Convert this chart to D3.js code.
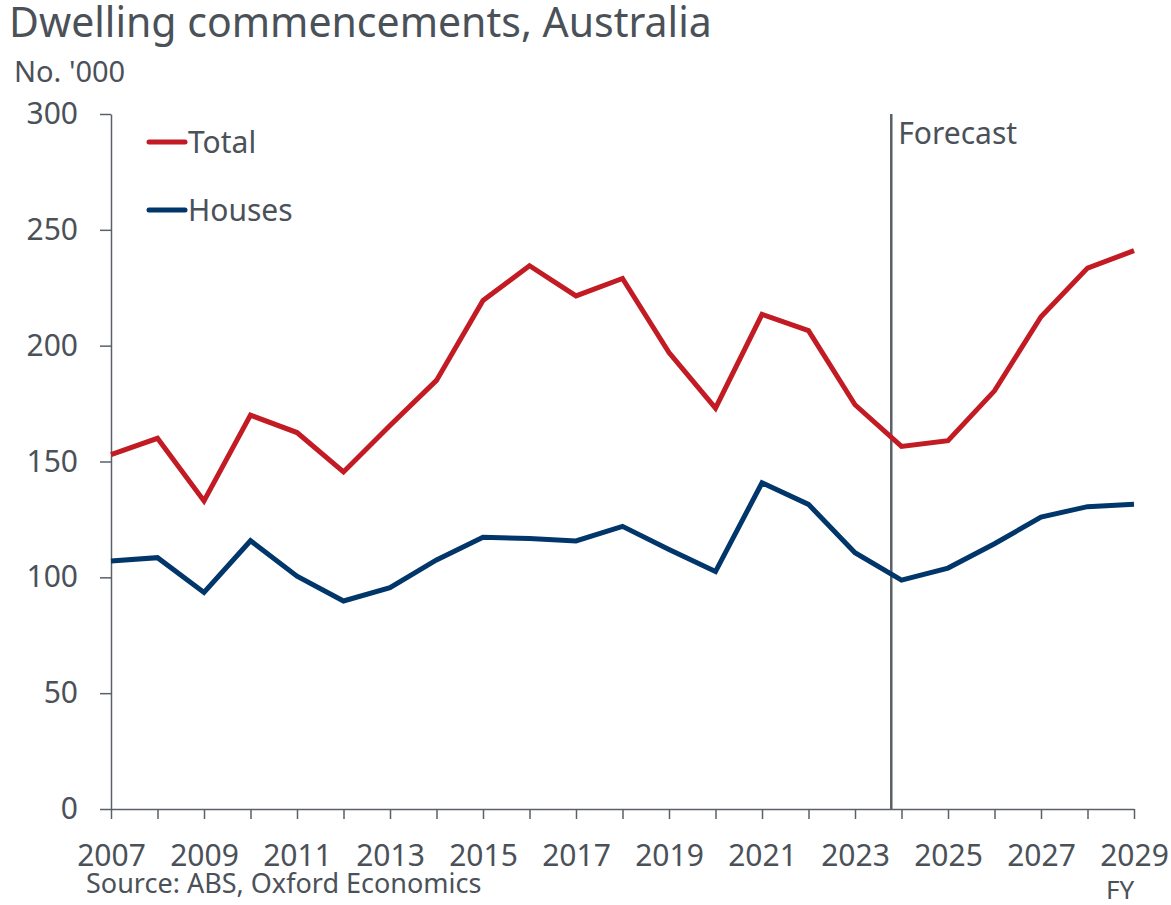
<!DOCTYPE html>
<html>
<head>
<meta charset="utf-8">
<script src="https://cdn.jsdelivr.net/npm/d3@7"></script>
<style>
  html, body { margin: 0; padding: 0; background: #fff; }
  svg { display: block; font-family: "Noto Sans", "Open Sans", sans-serif; }
</style>
</head>
<body>
<svg id="chart" width="1171" height="905"></svg>
<script>
// Financial years shown on the x axis
const years = [2007, 2008, 2009, 2010, 2011, 2012, 2013, 2014, 2015, 2016, 2017,
               2018, 2019, 2020, 2021, 2022, 2023, 2024, 2025, 2026, 2027, 2028, 2029];

// Dwelling commencements, '000
const totalValues = [153, 160, 133, 170, 162.5, 145.5, 165.5, 185, 219.5, 234.5, 221.5,
                     229, 197, 173, 213.5, 206.5, 174.5, 156.5, 159, 180.5, 212.5, 233.5, 241];
const housesValues = [107, 108.5, 93.5, 115.8, 100.5, 89.8, 95.5, 107.5, 117.3, 116.8, 115.7,
                      122, 112, 102.5, 140.8, 131.5, 110.6, 98.8, 104, 114.5, 126, 130.5, 131.5];

const yTicks = [0, 50, 100, 150, 200, 250, 300];
const xLabelYears = [2007, 2009, 2011, 2013, 2015, 2017, 2019, 2021, 2023, 2025, 2027, 2029];
const forecastStart = 2023.78;

const series = [
  { name: "Total", values: totalValues, color: "#c21b24" },
  { name: "Houses", values: housesValues, color: "#00366a" }
];

const textColor = "#4b5158";
const axisColor = "#5b6068";
const fontStack = "Noto Sans, Open Sans, sans-serif";

const svg = d3.select("#chart");
const margin = { left: 111, right: 1134, top: 114, bottom: 809 };

const x = d3.scaleLinear().domain([2007, 2029]).range([margin.left, margin.right]);
const y = d3.scaleLinear().domain([0, 300]).range([margin.bottom, margin.top]);

// Title and unit label
svg.append("text")
  .attr("x", 9).attr("y", 37)
  .attr("fill", textColor)
  .attr("font-size", 41)
  .text("Dwelling commencements, Australia");

svg.append("text")
  .attr("x", 14).attr("y", 82)
  .attr("fill", textColor)
  .attr("font-size", 29)
  .text("No. '000");

// Y axis
const yAxis = svg.append("g")
  .attr("transform", `translate(${margin.left},0)`)
  .call(d3.axisLeft(y).tickValues(yTicks).tickSize(11).tickPadding(22).tickSizeOuter(0));
yAxis.select(".domain").attr("stroke", axisColor).attr("stroke-width", 1.5);
yAxis.selectAll(".tick line").attr("stroke", axisColor).attr("stroke-width", 1.5);
yAxis.selectAll(".tick text")
  .attr("fill", textColor)
  .attr("font-size", 30)
  .attr("font-family", fontStack);

// X axis: a tick every year, labels every second year
const xAxis = svg.append("g")
  .attr("transform", `translate(0,${margin.bottom})`)
  .call(d3.axisBottom(x).tickValues(years).tickSize(10).tickSizeOuter(0)
    .tickFormat(d => xLabelYears.includes(d) ? String(d) : ""));
xAxis.select(".domain").attr("stroke", axisColor).attr("stroke-width", 1.5);
xAxis.selectAll(".tick line").attr("stroke", axisColor).attr("stroke-width", 1.5);
xAxis.selectAll(".tick text")
  .filter(d => !xLabelYears.includes(d))
  .remove();
xAxis.selectAll(".tick text")
  .attr("fill", textColor)
  .attr("font-size", 30)
  .attr("font-family", fontStack)
  .attr("dy", 0)
  .attr("y", 57);

svg.append("text")
  .attr("x", x(2029) - 14).attr("y", 899)
  .attr("text-anchor", "middle")
  .attr("fill", textColor)
  .attr("font-size", 26)
  .text("FY");

// Forecast divider
svg.append("line")
  .attr("x1", x(forecastStart)).attr("x2", x(forecastStart))
  .attr("y1", y(300)).attr("y2", y(0))
  .attr("stroke", axisColor).attr("stroke-width", 2.5);

svg.append("text")
  .attr("x", x(forecastStart) + 7).attr("y", 144)
  .attr("fill", textColor)
  .attr("font-size", 30)
  .text("Forecast");

// Series lines
const line = d3.line()
  .x((d, i) => x(years[i]))
  .y(d => y(d));

series.forEach(s => {
  svg.append("path")
    .datum(s.values)
    .attr("fill", "none")
    .attr("stroke", s.color)
    .attr("stroke-width", 5)
    .attr("stroke-linejoin", "miter")
    .attr("d", line);
});

// Legend
const legend = svg.append("g");
series.forEach((s, i) => {
  const ly = 142 + i * 68;
  legend.append("line")
    .attr("x1", 149).attr("x2", 185)
    .attr("y1", ly).attr("y2", ly)
    .attr("stroke", s.color)
    .attr("stroke-width", 5)
    .attr("stroke-linecap", "round");
  legend.append("text")
    .attr("x", 188).attr("y", ly + 11)
    .attr("fill", textColor)
    .attr("font-size", 30)
    .text(s.name);
});

// Source note
svg.append("text")
  .attr("x", 86).attr("y", 893)
  .attr("fill", textColor)
  .attr("font-size", 27)
  .text("Source: ABS, Oxford Economics");
</script>
</body>
</html>
